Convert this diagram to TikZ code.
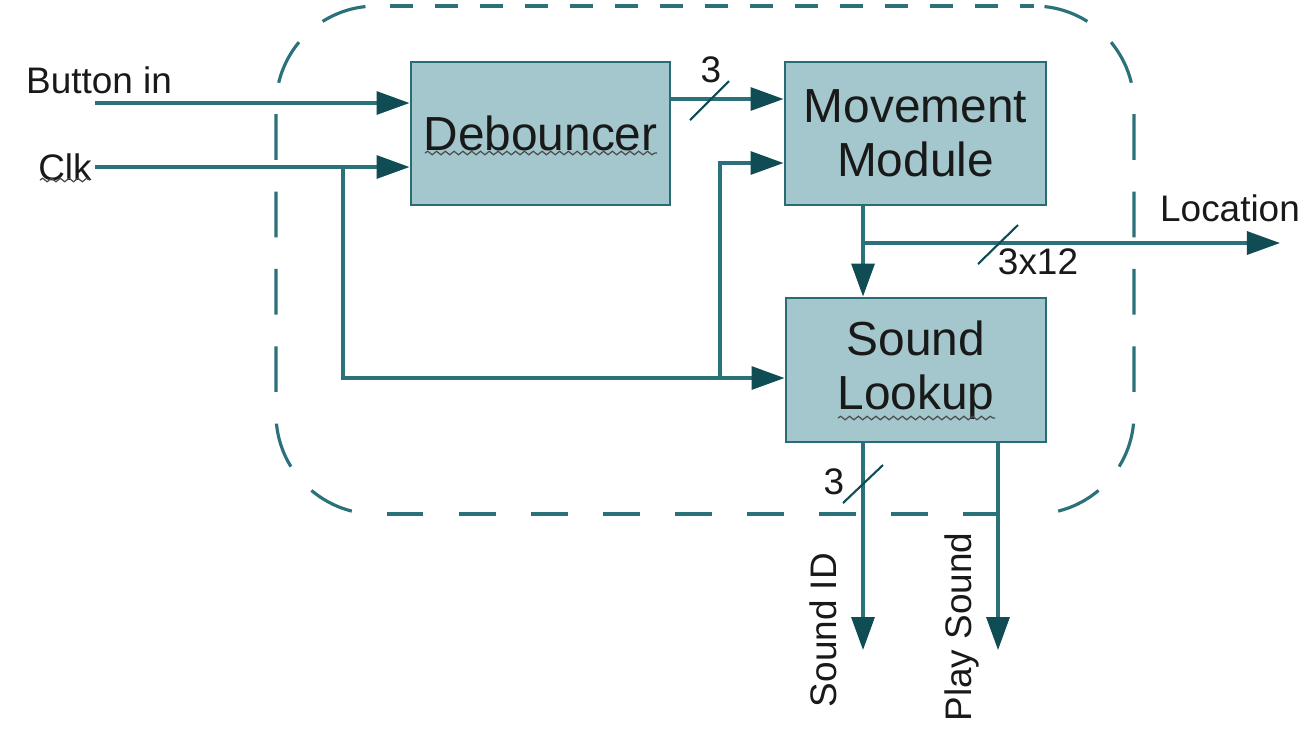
\documentclass[tikz,border=0pt]{standalone}
\usepackage{fontspec}
\setmainfont{Liberation Sans}
\usetikzlibrary{arrows.meta,decorations.pathmorphing}
\definecolor{linec}{HTML}{2B717A}
\definecolor{tipc}{HTML}{0F4C53}
\definecolor{boxfill}{HTML}{A3C7CC}
\definecolor{boxedge}{HTML}{2A6C74}
\begin{document}
\begin{tikzpicture}[x=0.01cm,y=-0.01cm,
  blk/.style={draw=boxedge, fill=boxfill, line width=0.8pt, minimum width=2.59cm, minimum height=1.43cm, inner sep=0pt, font=\fontsize{13.6}{15.5}\selectfont, align=center, text=black!90},
  conn/.style={draw=linec, line width=0.9pt},
  arr/.style={conn, -{Triangle[length=0.33cm,width=0.23cm,color=tipc]}},
  lbl/.style={font=\fontsize{10.5}{12}\selectfont, text=black!90, inner sep=0pt},
  slash/.style={draw=tipc, line width=0.6pt},
  frame/.style={draw=linec, line width=0.9pt},
  wavy/.style={draw=black!70, line width=0.35pt, decorate, decoration={snake, amplitude=0.5pt, segment length=2.5pt}}
]
\useasboundingbox (0,0) rectangle (1309,738);
\fill[white] (0,0) rectangle (1309,738);
% dashed enclosure, drawn side by side
\draw[frame, dash pattern=on 6.5pt off 6.3pt, dash phase=-4pt] (376,6) -- (1034,6);
\draw[frame, dash pattern=on 10.5pt off 10pt, dash phase=-3pt] (376,514) -- (1034,514);
\draw[frame, dash pattern=on 13pt off 9pt, dash phase=-3pt] (376,6) arc[start angle=90, end angle=180, radius=1cm] -- (276,414) arc[start angle=180, end angle=270, radius=1cm];
\draw[frame, dash pattern=on 13pt off 9pt, dash phase=-3pt] (1034,6) arc[start angle=90, end angle=0, radius=1cm] -- (1134,414) arc[start angle=0, end angle=-90, radius=1cm];

\node[blk] (deb) at (540.5,133.5) {Debouncer};
\node[blk, minimum width=2.61cm] (mov) at (915.5,133.5) {Movement\\Module};
\node[blk, minimum width=2.6cm, minimum height=1.44cm] (snd) at (916,370) {Sound\\Lookup};

\node[lbl] (bintxt) at (99,80) {Button in};
\node[lbl] (clk) at (65,167) {Clk};
\node[lbl, rotate=90] (sid) at (823,630) {Sound ID};
\node[lbl, rotate=90] (play) at (962,627) {Play Sound};
\node[lbl] (loc) at (1230,208) {Location};
\node[lbl] (n3a) at (711,70) {3};
\node[lbl] (n3x12) at (1038,262) {3x12};
\node[lbl] (n3b) at (834,482) {3};

\coordinate (bin) at (95,103);
\coordinate (clkout) at (95,167);
\coordinate (j1) at (343,167);
\coordinate (j2) at (720,378);
\coordinate (j3) at (863,243);
\coordinate (mclkin) at (0,163);
\coordinate (dm) at (0,99);
\coordinate (locend) at (1280,243);
\coordinate (sidend) at (863,650);
\coordinate (playend) at (998,650);

\draw[arr] (bin) -- (bin -| deb.west);
\draw[arr] (clkout) -- (clkout -| deb.west);
\draw[arr] (j1) |- (snd.west |- j2);
\draw[arr] (j2) |- (mov.west |- mclkin);
\draw[arr] (deb.east |- dm) -- (mov.west |- dm);
\draw[arr] (mov.south -| j3) -- (snd.north -| j3);
\draw[arr] (j3) -- (locend);
\draw[arr] (snd.south -| sidend) -- (sidend);
\draw[arr] (snd.south -| playend) -- (playend);

\draw[slash] (690,120) -- (729,81);
\draw[slash] (978,264) -- (1018,225);
\draw[slash] (843,503) -- (883,465);

\draw[wavy] (425,153) -- (657,153);
\draw[wavy] (40,180) -- (90,180);
\draw[wavy] (838,418) -- (995,418);
\end{tikzpicture}
\end{document}
